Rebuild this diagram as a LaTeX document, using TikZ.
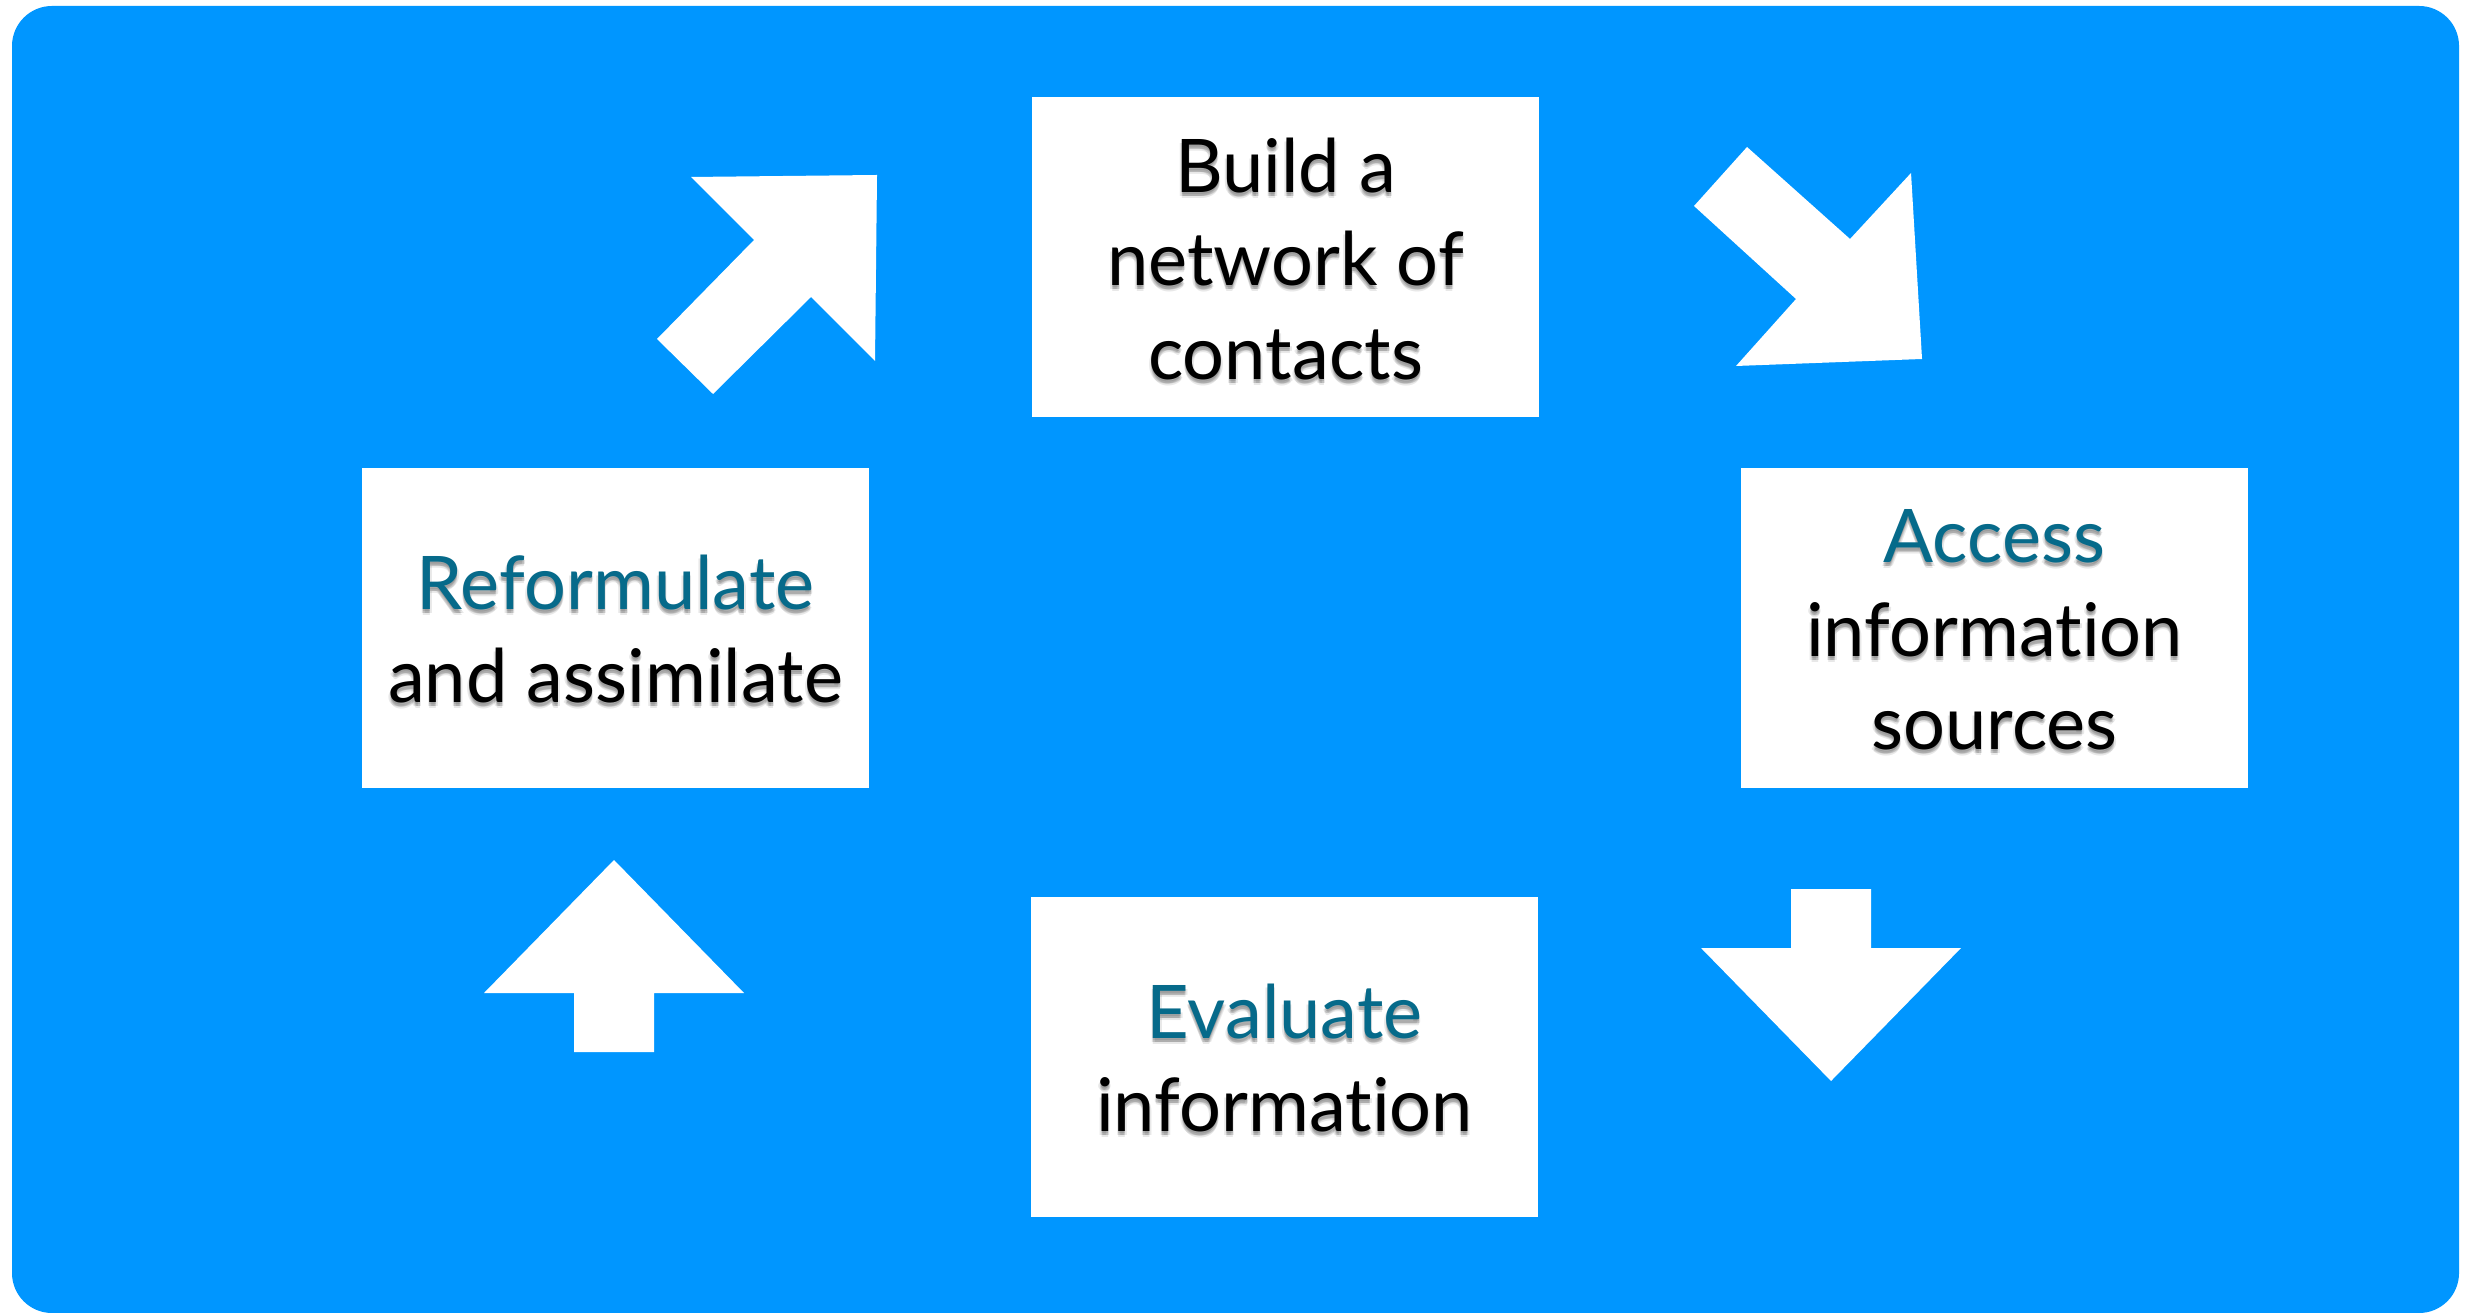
\documentclass[tikz,border=0pt]{standalone}
\usepackage{fontspec}
\setmainfont[Ligatures=NoCommon]{Lato}
\definecolor{bgblue}{RGB}{0,150,255}
\definecolor{tealtxt}{RGB}{6,106,138}
\tikzset{
  box/.style={fill=white, draw=none, inner sep=0pt, minimum width=126.75pt, minimum height=80pt},
  lbl/.style={anchor=base, inner sep=0pt, font=\fontsize{18.5pt}{23pt}\selectfont},
  blockarrow/.style={fill=white, draw=none}
}
\newcommand\shtext[5]{%
  \foreach \dx/\dy [count=\k] in {0/2,0/4,0/6,-1.5/4,1.5/4}{
    \node[lbl, text=black, text opacity=0.09] (#1s\k) at ({#2+(\dx)},{#3+(\dy)}) {#5};}
  \node[lbl, text=#4] (#1) at (#2,#3) {#5};}
\begin{document}
\begin{tikzpicture}[x=0.25pt, y=-0.25pt]
\useasboundingbox (0,0) rectangle (2479,1313);
\fill[bgblue, rounded corners=10pt] (12,6) rectangle (2459,1313);
% boxes
\node[box] (build) at (1285.5,257) {};
\node[box] (access) at (1994.5,628) {};
\node[box] (evaluate) at (1284.5,1057) {};
\node[box] (reform) at (615.5,628) {};
% texts
\shtext{b1}{1285.5}{193}{black}{Build a}
\shtext{b2}{1285.5}{286}{black}{network of}
\shtext{b3}{1285.5}{380}{black}{contacts}
\shtext{a1}{1994.5}{563}{tealtxt}{Access}
\shtext{a2}{1994.5}{657}{black}{information}
\shtext{a3}{1994.5}{750}{black}{sources}
\shtext{e1}{1284.5}{1038}{tealtxt}{Evaluate}
\shtext{e2}{1284.5}{1131}{black}{information}
\shtext{r1}{615.5}{610}{tealtxt}{Reformulate}
\shtext{r2}{615.5}{703}{black}{and assimilate}
% block arrows
\fill[blockarrow] (691,177) -- (877,175) -- (875,361) -- (811,297) -- (713,394) -- (657,339) -- (754,240) -- cycle;
\fill[blockarrow] (1747,147) -- (1850,239) -- (1911,173) -- (1922,359) -- (1736,366) -- (1796,299) -- (1694,206) -- cycle;
\fill[blockarrow] (1791,889) -- (1871,889) -- (1871,948) -- (1961,948) -- (1831,1081) -- (1701,948) -- (1791,948) -- cycle;
\fill[blockarrow] (614,860) -- (744,993) -- (654,993) -- (654,1052) -- (574,1052) -- (574,993) -- (484,993) -- cycle;
\end{tikzpicture}
\end{document}
